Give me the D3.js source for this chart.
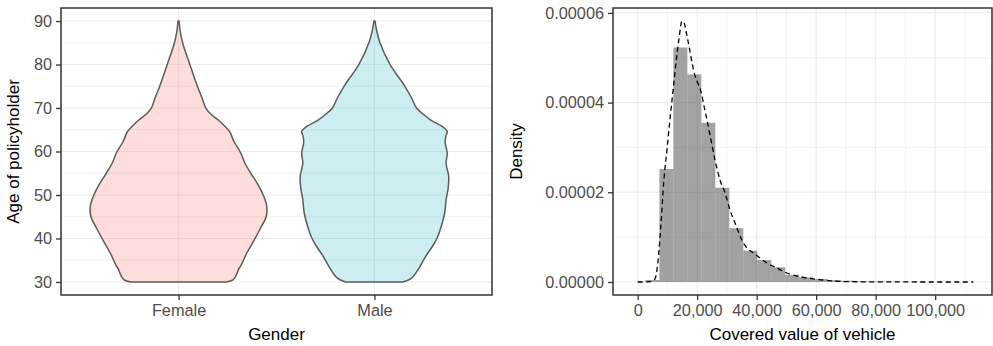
<!DOCTYPE html>
<html><head><meta charset="utf-8">
<script src="https://cdn.jsdelivr.net/npm/d3@7"></script>
<style>
body{margin:0;background:#fff}
svg{display:block}
text{font-family:"Liberation Sans",Arial,Helvetica,sans-serif}
</style>
</head><body>
<svg id="c" width="993" height="346"></svg>
<script>
// ---------- data: left panel (violins) ----------
const genders = ["Female", "Male"];
const ageTicks = [30, 40, 50, 60, 70, 80, 90];
const ageMinor = [35, 45, 55, 65, 75, 85];
const femaleAge = [30, 30.5, 31.4, 33, 34, 36.6, 40, 42.4, 45, 47.5, 50, 52.5, 55, 57.3, 59.6, 62.3, 64.6, 66, 67.3, 68.5, 70, 72.3, 75, 80, 85, 88, 90];
const femaleDensity = [0.0164, 0.0188, 0.0198, 0.0208, 0.0217, 0.0235, 0.0264, 0.0283, 0.0302, 0.0304, 0.0292, 0.0273, 0.0249, 0.0229, 0.0215, 0.0191, 0.0176, 0.0157, 0.0136, 0.0113, 0.0094, 0.0081, 0.0065, 0.0039, 0.0014, 0.0005, 0.0002];
const maleAge = [30, 30.5, 31.2, 33.2, 35.8, 38.1, 40.1, 42.7, 45.8, 48.9, 51.5, 54.3, 57.3, 59.6, 62, 63.5, 64.6, 65.5, 67.3, 68.8, 70, 72.3, 75, 80, 85, 88, 90];
const maleDensity = [0.0099, 0.0119, 0.0133, 0.0154, 0.0176, 0.0199, 0.0216, 0.0230, 0.0242, 0.0247, 0.0254, 0.0256, 0.0247, 0.0251, 0.0244, 0.0246, 0.0251, 0.0239, 0.0193, 0.0164, 0.0145, 0.0128, 0.0105, 0.0054, 0.0019, 0.0007, 0.0002];

// ---------- data: right panel (histogram + density) ----------
const binWidth = 4700;
const histBinStart = [2600, 7300, 12000, 16700, 21400, 26100, 30800, 35500, 40200, 44900, 49600, 54300, 59000, 63700, 68400, 73100, 77800, 82500, 87200, 91900, 96600, 101300, 106000];
const histDensity = [0.00000045, 0.0000252, 0.0000523, 0.0000463, 0.0000355, 0.0000210, 0.0000120, 0.00000698, 0.0000049, 0.00000328, 0.00000156, 0.00000105, 0.00000067, 0.00000045, 0.00000029, 0.00000016, 0.0000001, 0.00000006, 0.00000004, 0.00000003, 0.00000002, 0.00000001, 0.00000001];
const curveX = [0, 2000, 4000, 5800, 6800, 7800, 8800, 9900, 10900, 11900, 12900, 13900, 14900, 15600, 16500, 17300, 18300, 19300, 20300, 21300, 22300, 23300, 24300, 26000, 27700, 29400, 31000, 32700, 35000, 36700, 38900, 41100, 43400, 46800, 50100, 54600, 60200, 65700, 71400, 79800, 88200, 100000, 112800];
const curveY = [0, 0, 0.00000007, 0.00000067, 0.00000446, 0.0000127, 0.0000227, 0.0000299, 0.0000366, 0.0000428, 0.0000491, 0.0000544, 0.0000582, 0.0000578, 0.0000551, 0.0000524, 0.0000488, 0.0000459, 0.0000442, 0.0000424, 0.0000392, 0.0000361, 0.0000328, 0.0000272, 0.0000227, 0.0000198, 0.0000161, 0.0000132, 0.00000936, 0.00000758, 0.00000647, 0.00000535, 0.00000424, 0.00000312, 0.00000201, 0.00000118, 0.0000006, 0.00000022, 0.00000007, 0.00000003, 0.00000001, 0, 0];
const valueTicks = [0, 20000, 40000, 60000, 80000, 100000];
const valueMinor = [10000, 30000, 50000, 70000, 90000, 110000];
const densityTicks = [0, 0.00002, 0.00004, 0.00006];
const densityMinor = [0.00001, 0.00003, 0.00005];

// ---------- layout ----------
const svg = d3.select("#c");
const L = {x0: 61, x1: 492, y0: 8, y1: 295};
const R = {x0: 613, x1: 992, y0: 8, y1: 295};
const gridCol = "#EBEBEB", borderCol = "#333333", tickTextCol = "#4D4D4D";
const tickFont = 16.3, titleFont = 17, tickLen = 5;

// ---------- left panel ----------
const xL = d3.scalePoint().domain(genders).range([L.x0, L.x1]).padding(0.6);
const yL = d3.scaleLinear().domain([27, 93]).range([L.y1, L.y0]);
const gL = svg.append("g");
gL.append("rect").attr("x", L.x0).attr("y", L.y0).attr("width", L.x1 - L.x0).attr("height", L.y1 - L.y0).attr("fill", "#fff");
gL.selectAll(".mn").data(ageMinor).join("line")
  .attr("x1", L.x0).attr("x2", L.x1).attr("y1", d => yL(d)).attr("y2", d => yL(d))
  .attr("stroke", gridCol).attr("stroke-width", 0.6);
gL.selectAll(".mj").data(ageTicks).join("line")
  .attr("x1", L.x0).attr("x2", L.x1).attr("y1", d => yL(d)).attr("y2", d => yL(d))
  .attr("stroke", gridCol).attr("stroke-width", 1.1);
gL.selectAll(".vx").data(genders).join("line")
  .attr("x1", d => xL(d)).attr("x2", d => xL(d)).attr("y1", L.y0).attr("y2", L.y1)
  .attr("stroke", gridCol).attr("stroke-width", 1.1);

const maxDens = d3.max(femaleDensity.concat(maleDensity));
const halfW = d3.scaleLinear().domain([0, maxDens]).range([0, 0.45 * xL.step()]);
const violins = [
  {g: "Female", ages: femaleAge, dens: femaleDensity, fill: "rgba(248,118,109,0.25)"},
  {g: "Male", ages: maleAge, dens: maleDensity, fill: "rgba(0,170,185,0.2)"}
];
violins.forEach(v => {
  const pts = v.ages.map((a, i) => ({a, d: v.dens[i]}));
  const cx = xL(v.g);
  const area = d3.area()
    .y(p => yL(p.a))
    .x0(p => cx - halfW(p.d))
    .x1(p => cx + halfW(p.d))
    .curve(d3.curveCatmullRom);
  gL.append("path").attr("d", area(pts)).attr("fill", v.fill)
    .attr("stroke", "#5c5c5c").attr("stroke-width", 1.5).attr("stroke-linejoin", "round");
});
gL.append("rect").attr("x", L.x0).attr("y", L.y0).attr("width", L.x1 - L.x0).attr("height", L.y1 - L.y0)
  .attr("fill", "none").attr("stroke", borderCol).attr("stroke-width", 1.5);

const axLy = svg.append("g").attr("transform", `translate(${L.x0},0)`)
  .call(d3.axisLeft(yL).tickValues(ageTicks).tickSize(tickLen).tickPadding(4));
const axLx = svg.append("g").attr("transform", `translate(0,${L.y1})`)
  .call(d3.axisBottom(xL).tickSize(tickLen).tickPadding(4));

// ---------- right panel ----------
const xR = d3.scaleLinear().domain([-8300, 119100]).range([R.x0, R.x1]);
const yR = d3.scaleLinear().domain([-0.0000029, 0.0000611]).range([R.y1, R.y0]);
const gR = svg.append("g");
gR.append("rect").attr("x", R.x0).attr("y", R.y0).attr("width", R.x1 - R.x0).attr("height", R.y1 - R.y0).attr("fill", "#fff");
gR.selectAll(".hmn").data(densityMinor).join("line")
  .attr("x1", R.x0).attr("x2", R.x1).attr("y1", d => yR(d)).attr("y2", d => yR(d))
  .attr("stroke", gridCol).attr("stroke-width", 0.6);
gR.selectAll(".vmn").data(valueMinor).join("line")
  .attr("x1", d => xR(d)).attr("x2", d => xR(d)).attr("y1", R.y0).attr("y2", R.y1)
  .attr("stroke", gridCol).attr("stroke-width", 0.6);
gR.selectAll(".hmj").data(densityTicks).join("line")
  .attr("x1", R.x0).attr("x2", R.x1).attr("y1", d => yR(d)).attr("y2", d => yR(d))
  .attr("stroke", gridCol).attr("stroke-width", 1.1);
gR.selectAll(".vmj").data(valueTicks).join("line")
  .attr("x1", d => xR(d)).attr("x2", d => xR(d)).attr("y1", R.y0).attr("y2", R.y1)
  .attr("stroke", gridCol).attr("stroke-width", 1.1);

const bins = histBinStart.map((s, i) => ({s, e: s + binWidth, d: histDensity[i]}));
gR.selectAll(".bar").data(bins).join("rect")
  .attr("x", b => xR(b.s)).attr("width", b => xR(b.e) - xR(b.s))
  .attr("y", b => yR(b.d)).attr("height", b => yR(0) - yR(b.d))
  .attr("fill", "#4D4D4D").attr("fill-opacity", 0.52);

const line = d3.line().x((d, i) => xR(curveX[i])).y((d, i) => yR(curveY[i])).curve(d3.curveMonotoneX);
gR.append("path").attr("d", line(curveX)).attr("fill", "none")
  .attr("stroke", "#000").attr("stroke-width", 1.3).attr("stroke-dasharray", "5,3.5");
gR.append("rect").attr("x", R.x0).attr("y", R.y0).attr("width", R.x1 - R.x0).attr("height", R.y1 - R.y0)
  .attr("fill", "none").attr("stroke", borderCol).attr("stroke-width", 1.5);

const axRy = svg.append("g").attr("transform", `translate(${R.x0},0)`)
  .call(d3.axisLeft(yR).tickValues(densityTicks).tickFormat(d3.format(".5f")).tickSize(tickLen).tickPadding(4));
const axRx = svg.append("g").attr("transform", `translate(0,${R.y1})`)
  .call(d3.axisBottom(xR).tickValues(valueTicks).tickFormat(d3.format(",")).tickSize(tickLen).tickPadding(4));

// axis styling
[axLy, axLx, axRy, axRx].forEach(a => {
  a.select(".domain").remove();
  a.selectAll(".tick line").attr("stroke", borderCol).attr("stroke-width", 1.3);
  a.selectAll(".tick text").attr("fill", tickTextCol).style("font-size", tickFont + "px")
    .style("font-family", '"Liberation Sans",Arial,sans-serif');
});

// titles
svg.append("text").attr("x", (L.x0 + L.x1) / 2).attr("y", 340).attr("text-anchor", "middle")
  .style("font-size", titleFont + "px").attr("fill", "#000").text("Gender");
svg.append("text").attr("transform", `translate(19,${(L.y0 + L.y1) / 2}) rotate(-90)`).attr("text-anchor", "middle")
  .style("font-size", titleFont + "px").attr("fill", "#000").text("Age of policyholder");
svg.append("text").attr("x", (R.x0 + R.x1) / 2).attr("y", 340).attr("text-anchor", "middle")
  .style("font-size", titleFont + "px").attr("fill", "#000").text("Covered value of vehicle");
svg.append("text").attr("transform", `translate(522,${(R.y0 + R.y1) / 2}) rotate(-90)`).attr("text-anchor", "middle")
  .style("font-size", titleFont + "px").attr("fill", "#000").text("Density");
</script>
</body></html>
